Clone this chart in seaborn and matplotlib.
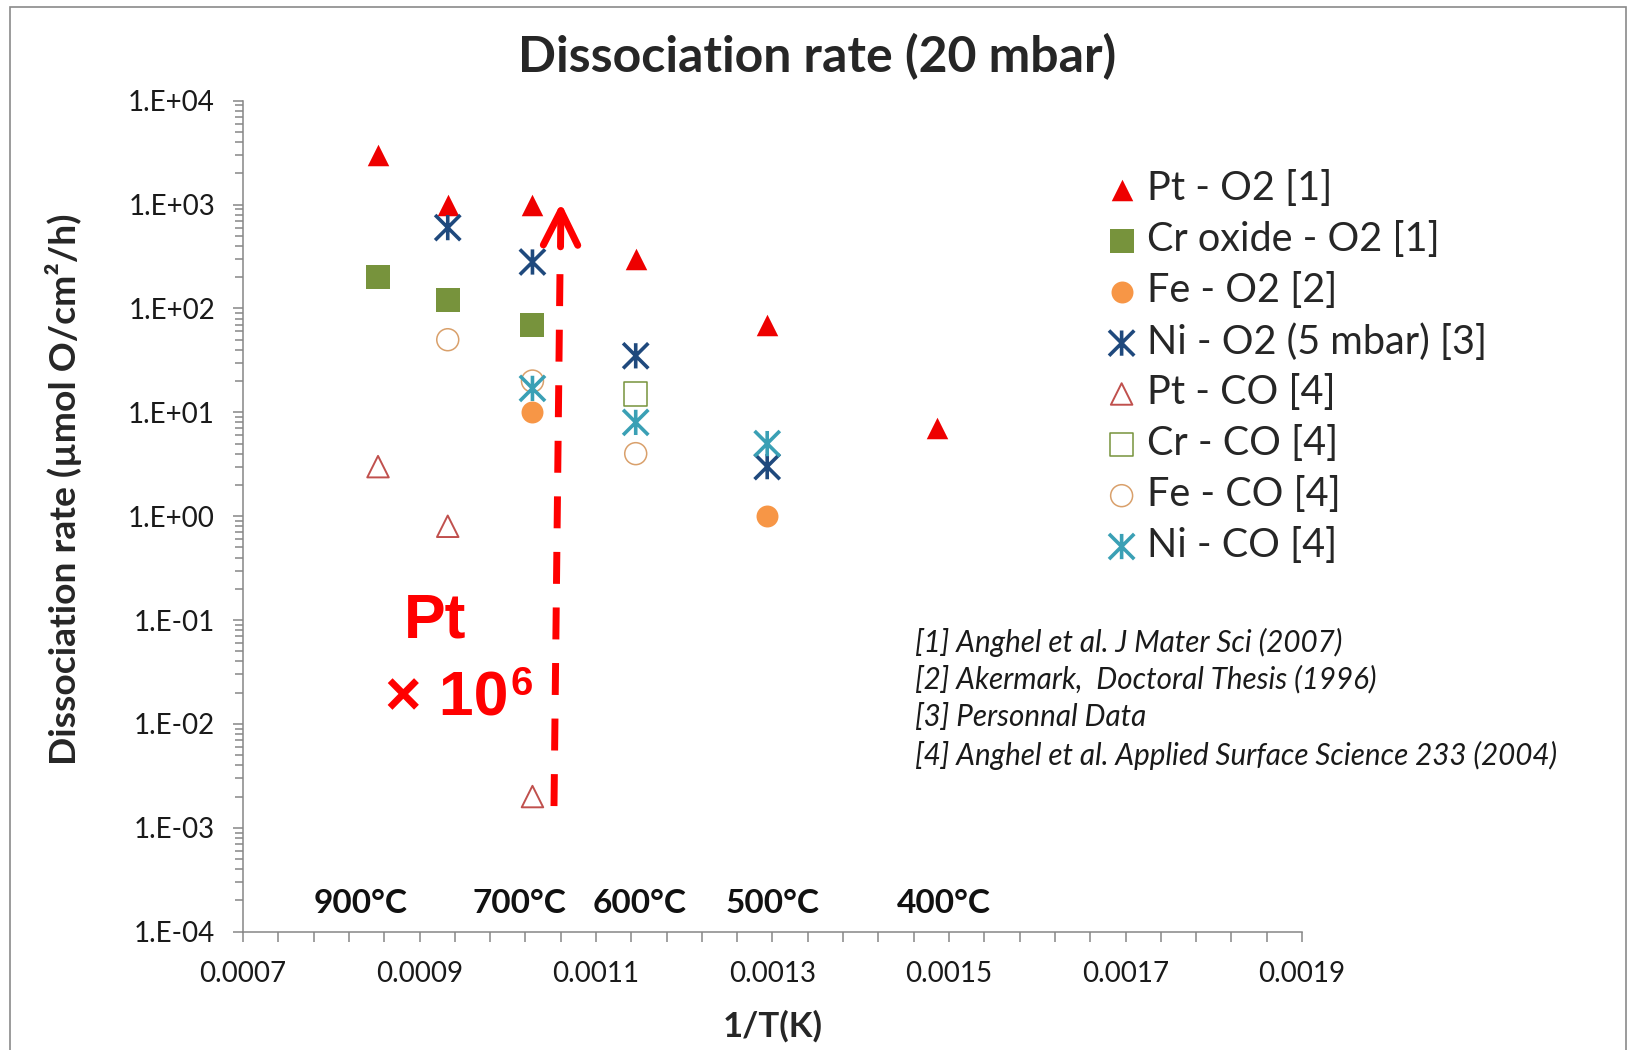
import numpy as np
import pandas as pd
import matplotlib
matplotlib.use("Agg")
import matplotlib.pyplot as plt
import seaborn as sns
from matplotlib.path import Path
from matplotlib.patches import Rectangle
from matplotlib.ticker import FixedLocator, FixedFormatter, LogLocator, FuncFormatter, NullFormatter

sns.set_style("white")
plt.rcParams['font.family'] = ['Lato', 'DejaVu Sans']

# ---------------- data ----------------
title = "Dissociation rate (20 mbar)"
x_label = "1/T(K)"
y_label = "Dissociation rate (µmol O/cm²/h)"

pt_o2_x = [0.000853, 0.000932, 0.001028, 0.001145, 0.001294, 0.001486]
pt_o2_y = [3000, 1000, 1000, 300, 70, 7]

cr_ox_o2_x = [0.000853, 0.000932, 0.001028]
cr_ox_o2_y = [200, 120, 70]

fe_o2_x = [0.001028, 0.001294]
fe_o2_y = [10, 1]

ni_o2_x = [0.000932, 0.001028, 0.001145, 0.001294]
ni_o2_y = [600, 280, 35, 3]

pt_co_x = [0.000853, 0.000932, 0.001028]
pt_co_y = [3, 0.8, 0.002]

cr_co_x = [0.001145]
cr_co_y = [15]

fe_co_x = [0.000932, 0.001028, 0.001145]
fe_co_y = [50, 20, 4]

ni_co_x = [0.001028, 0.001145, 0.001294]
ni_co_y = [17, 8, 5]

series_labels = ["Pt - O2 [1]", "Cr oxide - O2 [1]", "Fe - O2 [2]", "Ni - O2 (5 mbar) [3]",
                 "Pt - CO [4]", "Cr - CO [4]", "Fe - CO [4]", "Ni - CO [4]"]

x_major_ticks = [0.0007, 0.0009, 0.0011, 0.0013, 0.0015, 0.0017, 0.0019]
x_tick_labels = ["0.0007", "0.0009", "0.0011", "0.0013", "0.0015", "0.0017", "0.0019"]

temp_labels = ["900°C", "700°C", "600°C", "500°C", "400°C"]
temp_label_x = [0.000833, 0.0010127, 0.00115, 0.0013006, 0.0014943]

references = ["[1] Anghel et al. J Mater Sci (2007)",
              "[2] Akermark,  Doctoral Thesis (1996)",
              "[3] Personnal Data",
              "[4] Anghel et al. Applied Surface Science 233 (2004)"]

# ---------------- figure ----------------
W, H = 1627, 1050
fig = plt.figure(figsize=(W / 100, H / 100), dpi=100)
fig.patch.set_facecolor("white")
ax = fig.add_axes([243 / W, 1 - 931.7 / H, (1302 - 243) / W, (931.7 - 100.7) / H])

asterisk = Path([(0, -1), (0, 1), (-1, -1), (1, 1), (-1, 1), (1, -1)],
                [Path.MOVETO, Path.LINETO] * 3)

styles = [
    dict(x=pt_o2_x, y=pt_o2_y, marker="^", s=240, color="#EE0000", facecolor="#EE0000", edgecolor="#EE0000", linewidth=0),
    dict(x=cr_ox_o2_x, y=cr_ox_o2_y, marker="s", s=300, color="#77933C", facecolor="#77933C", edgecolor="#77933C", linewidth=0),
    dict(x=fe_o2_x, y=fe_o2_y, marker="o", s=250, color="#F79646", facecolor="#F79646", edgecolor="#F79646", linewidth=0),
    dict(x=ni_o2_x, y=ni_o2_y, marker=asterisk, s=330, color="#1F497D", facecolor="none", edgecolor="#1F497D", linewidth=2.6),
    dict(x=pt_co_x, y=pt_co_y, marker="^", s=240, color="#C0504D", facecolor="none", edgecolor="#C0504D", linewidth=1.4),
    dict(x=cr_co_x, y=cr_co_y, marker="s", s=280, color="#77933C", facecolor="none", edgecolor="#77933C", linewidth=1.1),
    dict(x=fe_co_x, y=fe_co_y, marker="o", s=250, color="#D9A06B", facecolor="none", edgecolor="#D9A06B", linewidth=1.1),
    dict(x=ni_co_x, y=ni_co_y, marker=asterisk, s=330, color="#3AA0B5", facecolor="none", edgecolor="#3AA0B5", linewidth=2.6),
]

for st, lab in zip(styles, series_labels):
    df = pd.DataFrame({"x": st.pop("x"), "y": st.pop("y")})
    sns.scatterplot(data=df, x="x", y="y", ax=ax, label=lab, legend=False, zorder=3, **st)

ax.set_yscale("log")
ax.set_xlim(0.0007, 0.0019)
ax.set_ylim(1e-4, 1e4)

spine_col = "#868686"
for side in ["top", "right"]:
    ax.spines[side].set_visible(False)
for side in ["left", "bottom"]:
    ax.spines[side].set_color(spine_col)
    ax.spines[side].set_linewidth(1.1)

ax.xaxis.set_major_locator(FixedLocator(x_major_ticks))
ax.xaxis.set_major_formatter(FixedFormatter(x_tick_labels))
ax.xaxis.set_minor_locator(FixedLocator(np.linspace(0.0007, 0.0019, 31)))
ax.yaxis.set_major_locator(LogLocator(base=10, numticks=20))
ax.yaxis.set_minor_locator(LogLocator(base=10, subs=np.arange(2, 10), numticks=20))
ax.yaxis.set_major_formatter(FuncFormatter(lambda v, p: f"1.E{int(round(np.log10(v))):+03d}"))
ax.yaxis.set_minor_formatter(NullFormatter())

ax.tick_params(axis="both", which="both", direction="out", color=spine_col, width=1.1,
               labelsize=20, labelcolor="#1a1a1a", bottom=True, left=True)
ax.tick_params(axis="x", which="both", length=7.2, pad=14)
ax.tick_params(axis="y", which="major", length=7.2, pad=13)
ax.tick_params(axis="y", which="minor", length=5.5)

ax.set_xlabel(x_label, fontsize=25, fontweight="bold")
ax.xaxis.set_label_coords(0.5005, -0.094)
ax.set_ylabel(y_label, fontsize=26.8, fontweight="bold")
ax.yaxis.set_label_coords(-0.152, 0.533)

fig.text(817 / W, 1 - 57 / H, title, ha="center", va="center", fontsize=36, fontweight="bold")

# temperature labels
for lab, xv in zip(temp_labels, temp_label_x):
    ax.text(xv, 0.0345, lab, transform=ax.get_xaxis_transform(), ha="center", va="center",
            fontsize=24, fontweight="bold", color="#111111")

# legend
handles, labels = ax.get_legend_handles_labels()
leg = ax.legend(handles, labels, loc="upper left", bbox_to_anchor=(1086 / W, 1 - 150.5 / H),
                bbox_transform=fig.transFigure, frameon=False, fontsize=28.5, borderpad=0,
                handlelength=0.8, handletextpad=0.25, labelspacing=0.35, scatterpoints=1)

# references
ref_y = [642, 679.5, 717, 755]
for txt, yy in zip(references, ref_y):
    fig.text(915 / W, 1 - yy / H, txt, ha="left", va="center", fontsize=21.3, style="italic", color="#1a1a1a")

# Pt x 10^6 annotation
red = "#FF0000"
fig.text(404 / W, 1 - 638 / H, "Pt", ha="left", va="baseline", fontsize=45, fontweight="bold",
         color=red, family=["Liberation Sans", "DejaVu Sans"])
fig.text(385 / W, 1 - 715 / H, "× 10", ha="left", va="baseline", fontsize=45, fontweight="bold",
         color=red, family=["Liberation Sans", "DejaVu Sans"])
fig.text(511 / W, 1 - 695 / H, "6", ha="left", va="baseline", fontsize=29, fontweight="bold",
         color=red, family=["Liberation Sans", "DejaVu Sans"])

# dashed arrow
arrow_start = (0.0010524, 1.62e-3)
arrow_dash_end = (0.0010592, 227)
arrow_head_base = (0.0010598, 392)
arrow_tip = (0.0010603, 1037)
ax.plot([arrow_start[0], arrow_dash_end[0]], [arrow_start[1], arrow_dash_end[1]], color=red, lw=5,
        linestyle=(0, (4.6, 3.4)), dash_capstyle="butt", zorder=4)
ax.annotate("", xy=arrow_tip, xytext=arrow_head_base,
            arrowprops=dict(arrowstyle="->,head_length=0.4,head_width=0.2", mutation_scale=62,
                            lw=5, color=red, shrinkA=0, shrinkB=0, capstyle="round"), zorder=4)

# outer border
fig.add_artist(Rectangle((9.5 / W, -0.02), (1626 - 9.5) / W, 1 - 6.5 / H + 0.02,
                         transform=fig.transFigure, fill=False, edgecolor="#8a8a8a", lw=1.2))

fig.savefig("out.png", dpi=100)
